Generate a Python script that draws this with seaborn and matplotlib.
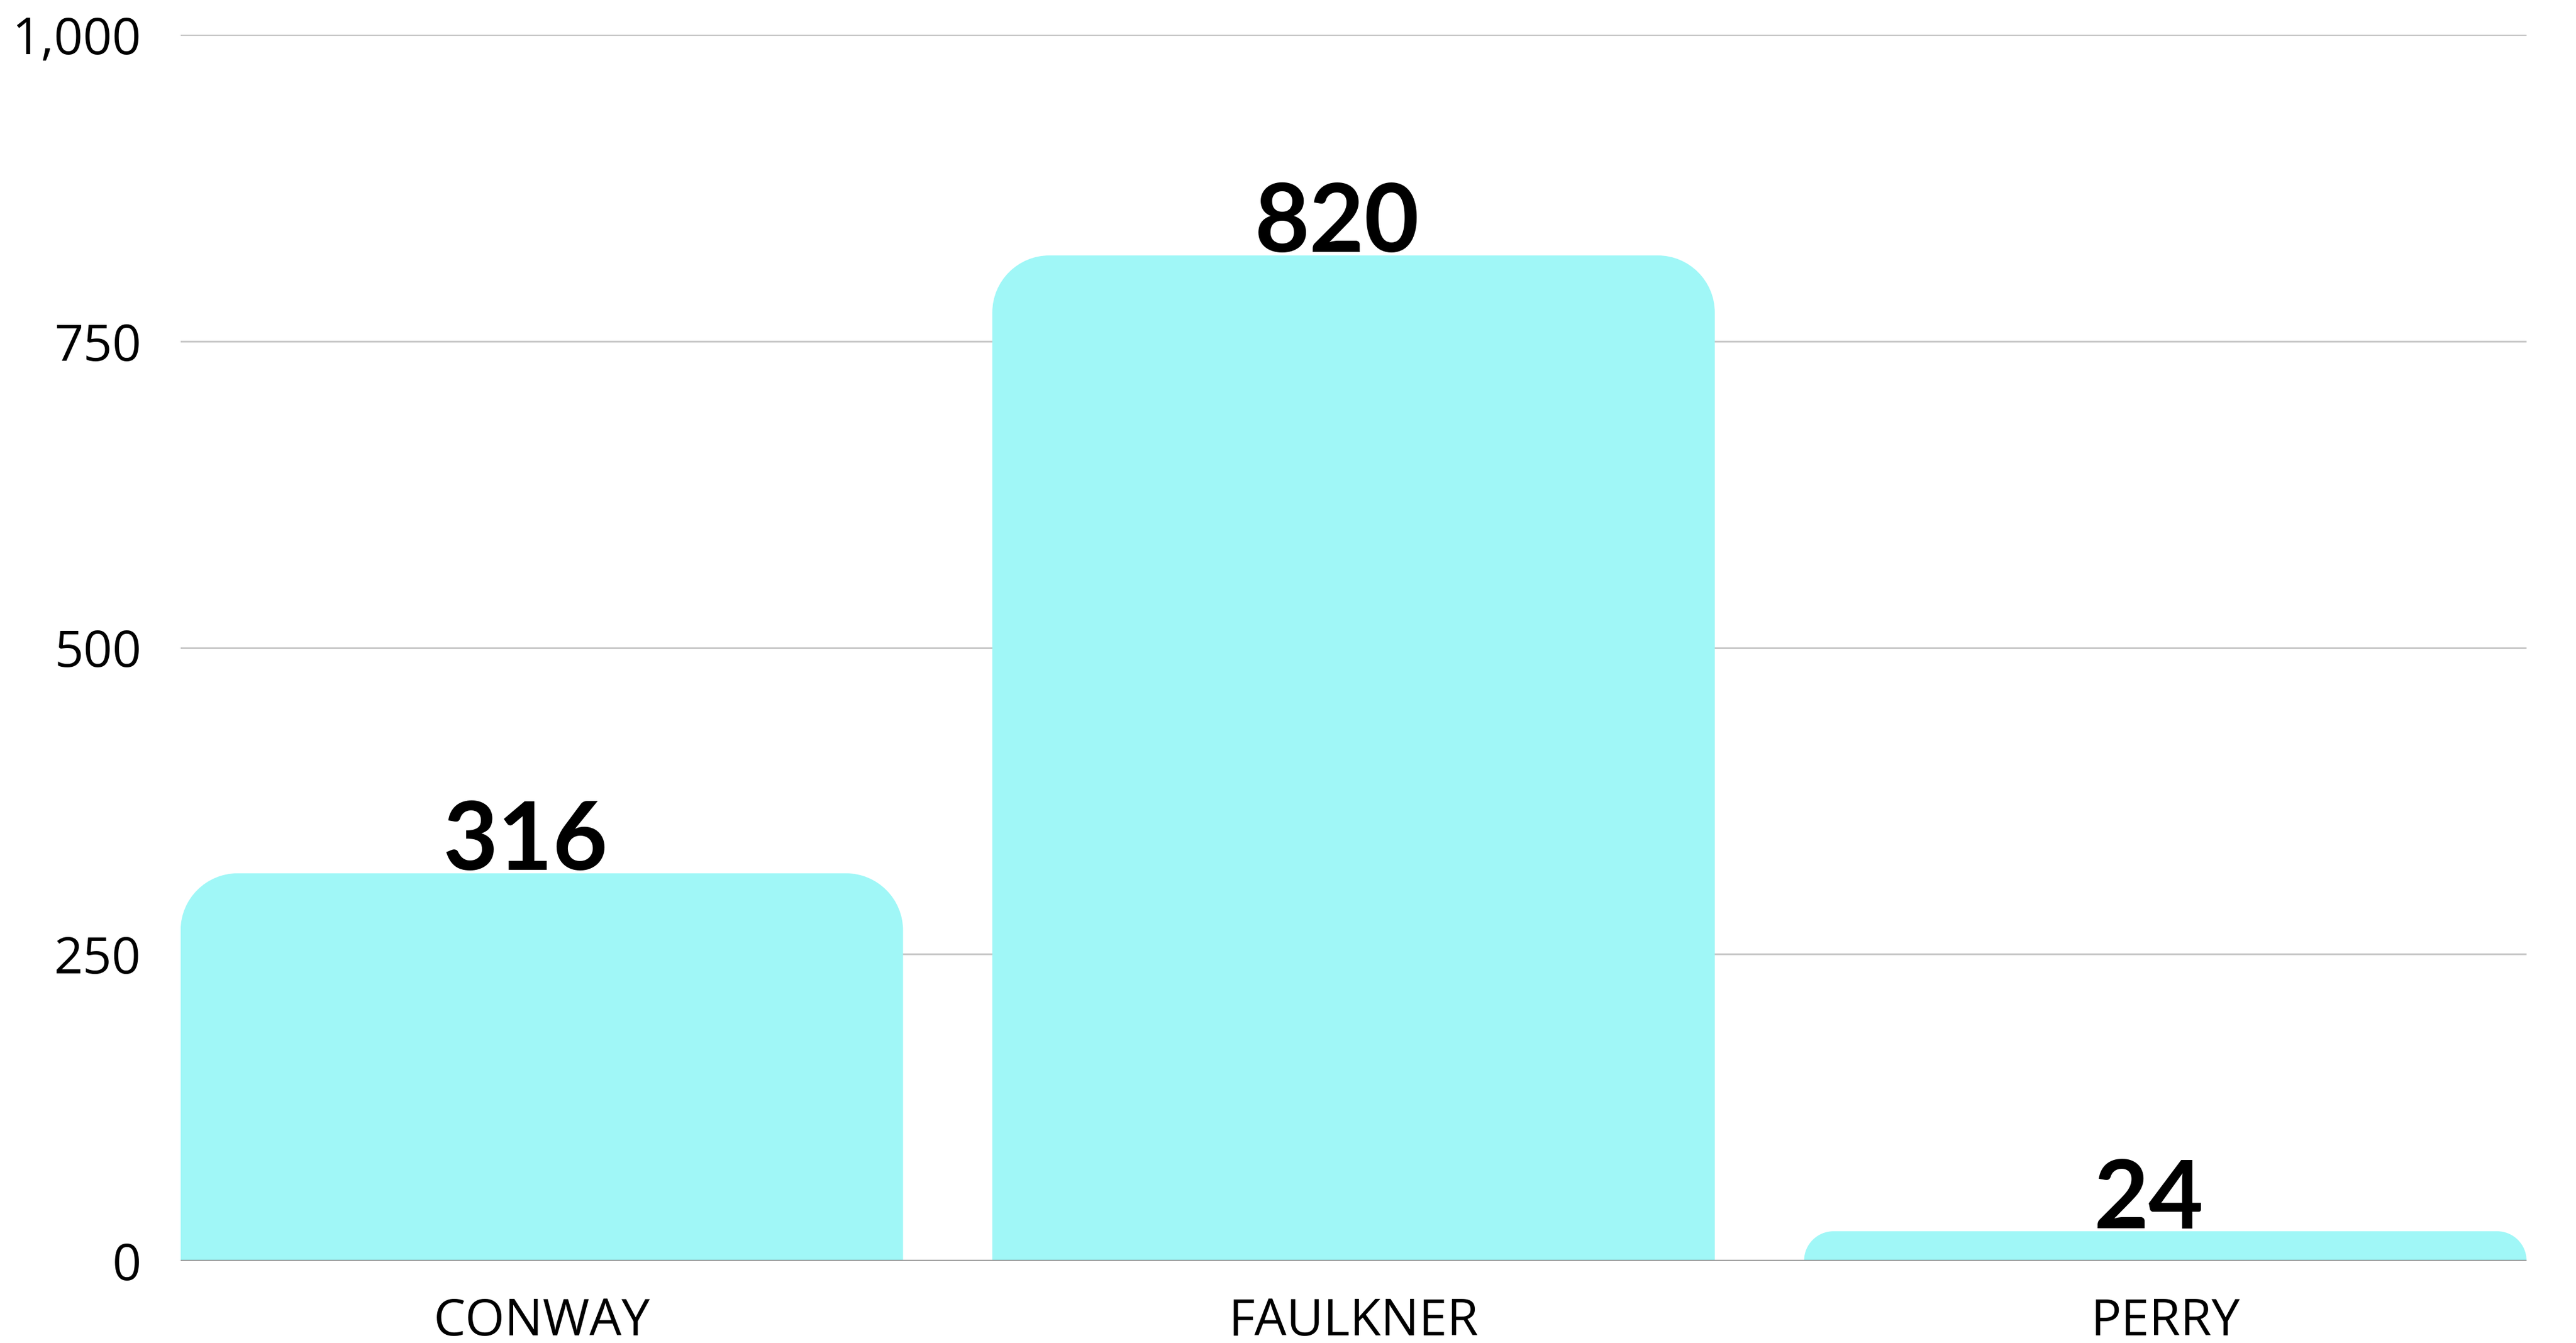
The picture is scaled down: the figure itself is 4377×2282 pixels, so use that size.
import numpy as np
import pandas as pd
import matplotlib
matplotlib.use('Agg')
import matplotlib.pyplot as plt
import seaborn as sns
from matplotlib.path import Path
from matplotlib.patches import PathPatch
from matplotlib.ticker import FuncFormatter

# --- DATOS ---
counties = ['CONWAY', 'FAULKNER', 'PERRY']
values = [316, 820, 24]
y_ticks = [0, 250, 500, 750, 1000]

df = pd.DataFrame({'county': counties, 'value': values})

BAR_COLOR = '#A0F7F7'
BAR_WIDTH = 0.89

sns.set_style('white')
plt.rcParams['font.family'] = ['Open Sans', 'DejaVu Sans']

fig = plt.figure(figsize=(43.77, 22.82), dpi=100)
ax = fig.add_axes([0.0701, 0.0613, 0.9107, 0.9128])

sns.barplot(data=df, x='county', y='value', color=BAR_COLOR, width=BAR_WIDTH,
            saturation=1, ax=ax, zorder=3)

ax.set_xlim(-0.445, 2.445)
ax.set_ylim(0, 1000)
fig.canvas.draw()

# px -> unidades de datos
bbox = ax.get_window_extent()
px_x = (ax.get_xlim()[1] - ax.get_xlim()[0]) / bbox.width
px_y = (ax.get_ylim()[1] - ax.get_ylim()[0]) / bbox.height

# Reemplazar barras por barras con esquinas superiores redondeadas
k = 0.5523
for p in list(ax.patches):
    x0, w, h = p.get_x(), p.get_width(), p.get_height()
    r_px = min(97, h / px_y)
    rx, ry = r_px * px_x, r_px * px_y
    x1 = x0 + w
    verts = [
        (x0, 0), (x0, h - ry),
        (x0, h - ry + k * ry), (x0 + rx - k * rx, h), (x0 + rx, h),
        (x1 - rx, h),
        (x1 - rx + k * rx, h), (x1, h - ry + k * ry), (x1, h - ry),
        (x1, 0), (x0, 0),
    ]
    codes = [Path.MOVETO, Path.LINETO,
             Path.CURVE4, Path.CURVE4, Path.CURVE4,
             Path.LINETO,
             Path.CURVE4, Path.CURVE4, Path.CURVE4,
             Path.LINETO, Path.CLOSEPOLY]
    ax.add_patch(PathPatch(Path(verts, codes), facecolor=BAR_COLOR,
                           edgecolor='none', zorder=3))
    p.remove()

# Etiquetas de valores
for i, v in enumerate(values):
    ax.annotate(f'{v}', xy=(i - 0.02, v), xytext=(0, 4), textcoords='offset points',
                ha='center', va='baseline', fontsize=116, fontweight='bold',
                family=['Lato', 'DejaVu Sans'], color='black', zorder=5)

# Ejes
ax.set_yticks(y_ticks)
ax.yaxis.set_major_formatter(FuncFormatter(lambda v, _: f'{int(v):,}'))
ax.grid(axis='y', color='#C8C8C8', linewidth=2.2, zorder=0)
ax.grid(axis='x', visible=False)
ax.axhline(0, color='#6B6B6B', linewidth=2.5, zorder=4)
for s in ax.spines.values():
    s.set_visible(False)
ax.tick_params(axis='y', length=0, pad=48, labelsize=62, labelcolor='black')
ax.tick_params(axis='x', length=0, pad=44, labelsize=62, labelcolor='black')
ax.set_xlabel('')
ax.set_ylabel('')

fig.savefig('out.png', dpi=100, facecolor='white')
